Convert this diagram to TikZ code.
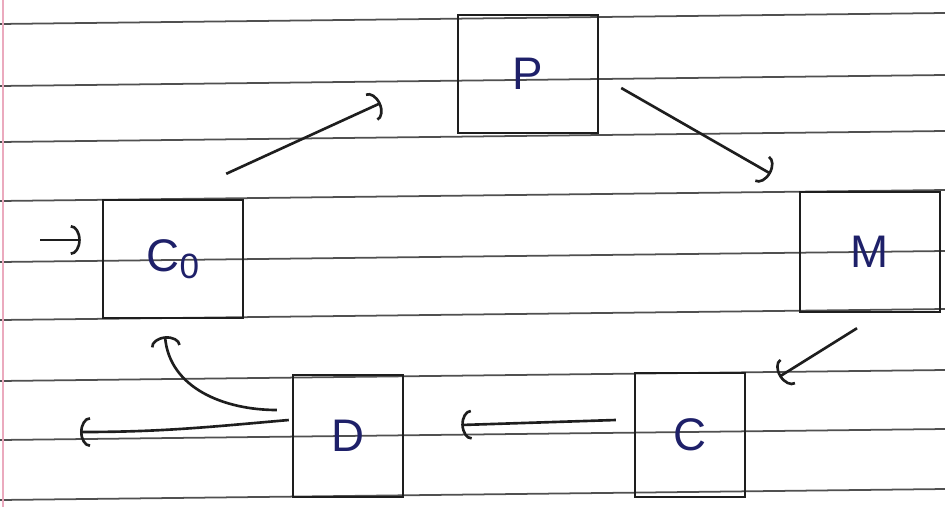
\documentclass[tikz,border=0pt]{standalone}
\usepackage{fontspec}
\setmainfont{Liberation Sans}
\usepackage{xcolor}
\usepackage{tikz}
\usetikzlibrary{arrows.meta, positioning, calc}
\definecolor{inkblue}{RGB}{30, 32, 105}
\definecolor{pencil}{RGB}{30, 30, 30}
\definecolor{ruled}{RGB}{80, 80, 80}
\definecolor{margin}{RGB}{235, 170, 190}
\tikzstyle{state} = [rectangle, draw=pencil, line width=1.4pt, minimum width=2.8cm, minimum height=2.36cm, text=inkblue, font=\fontsize{26}{28}\selectfont]
\tikzstyle{smallstate} = [state, minimum width=2.2cm, minimum height=2.44cm]
\tikzstyle{arrow} = [-{Arc Barb[length=2mm, width=6mm]}, line width=1.5pt, draw=pencil]
\tikzstyle{rule} = [draw=ruled, line width=1pt]

\begin{document}
\begin{tikzpicture}[x=0.02cm, y=-0.02cm]
    \useasboundingbox (0,0) rectangle (945,507);

    % Ruled paper
    \foreach \y in {24, 86, 142, 201, 262, 320, 381, 440, 500}
        \draw[rule] (0,\y) -- (945,\y-11);
    \draw[margin, line width=0.8pt] (3,0) -- (3,507);

    % States
    \node[state] (p) at (528, 74) {P};
    \node[state] (c0) at (173, 259) {C\raisebox{-0.3ex}{\fontsize{20}{22}\selectfont 0}};
    \node[state, minimum height=2.4cm] (m) at (870, 252) {M};
    \node[smallstate] (d) at (348, 436) {D};
    \node[smallstate, minimum height=2.48cm] (c) at (690, 435) {C};

    % Free ends
    \coordinate (start) at (40, 240);
    \coordinate (exit) at (80, 432);

    % Arrows
    \draw[arrow] (start) -- ([shift={(-21,-19)}]c0.west);
    \draw[arrow] ([shift={(-18,-25)}]c0.north east) -- ([shift={(-76,29)}]p.west);
    \draw[arrow] ([shift={(22,14)}]p.east) -- ([shift={(-28,-17)}]m.north west);
    \draw[arrow] ([shift={(-13,15)}]m.south) -- ([shift={(33,5)}]c.north east);
    \draw[arrow] ([shift={(-18,-15)}]c.west) -- ([shift={(57,-11)}]d.east);
    \draw[arrow] ([shift={(-3,-16)}]d.west) to[out=185, in=0] (exit);
    \draw[arrow] ([shift={(-15,-26)}]d.west) to[out=180, in=-85] ([shift={(-8,17)}]c0.south);
\end{tikzpicture}
\end{document}
